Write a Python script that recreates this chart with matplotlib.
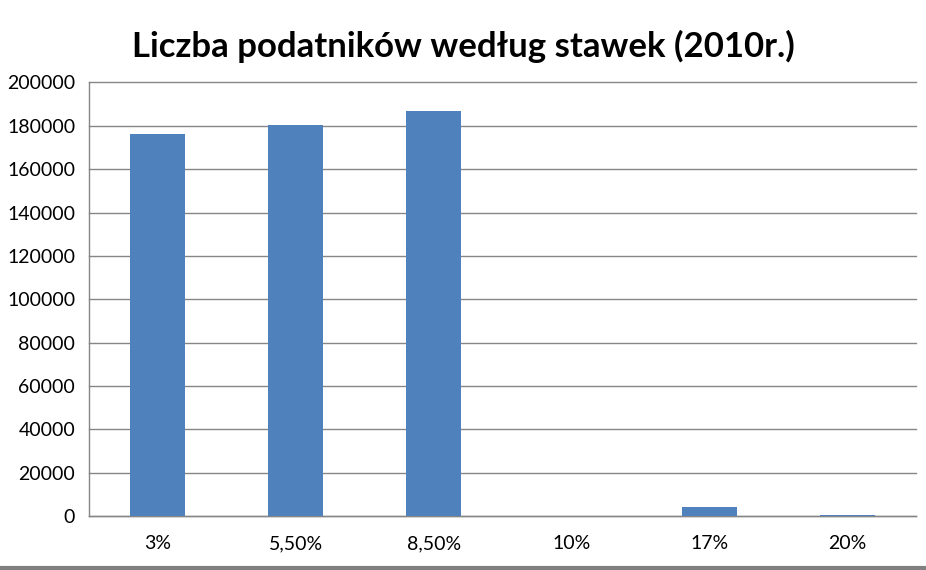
import matplotlib
matplotlib.use("Agg")
import matplotlib.pyplot as plt

categories = ["3%", "5,50%", "8,50%", "10%", "17%", "20%"]
taxpayers = [176300, 180600, 187000, 0, 4300, 500]
y_ticks = [0, 20000, 40000, 60000, 80000, 100000, 120000, 140000, 160000, 180000, 200000]

BAR = "#4F81BD"
GRID = "#868686"

plt.rcParams["font.family"] = ["Lato", "DejaVu Sans"]

fig = plt.figure(figsize=(9.26, 5.70), dpi=100)
ax = fig.add_axes([89 / 926, (570 - 516) / 570, (916 - 89) / 926, (516 - 82.5) / 570])

x = range(len(categories))
ax.bar(list(x), taxpayers, width=0.4, color=BAR, zorder=3)
ax.set_xlim(-0.5, len(categories) - 0.5)
ax.set_ylim(0, 200000)
ax.set_yticks(y_ticks)
ax.set_yticklabels([str(v) for v in y_ticks], fontsize=14)
ax.set_xticks(list(x))
ax.set_xticklabels(categories, fontsize=14)
ax.tick_params(length=0, pad=10)
ax.tick_params(axis="x", pad=14)
ax.yaxis.grid(True, color=GRID, linewidth=1)
for gl in ax.get_ygridlines():
    gl.set_clip_on(False)
ax.set_axisbelow(True)
for s in ["top", "right"]:
    ax.spines[s].set_visible(False)
for s in ["left", "bottom"]:
    ax.spines[s].set_color(GRID)
    ax.spines[s].set_linewidth(1)

fig.text(0.5, 0.918, "Liczba podatników według stawek (2010r.)", ha="center", va="center",
         fontsize=25, fontweight="bold")

# gray band at the bottom edge
fig.add_artist(plt.Line2D([0, 1], [0.003, 0.003], color="#808080", linewidth=3, transform=fig.transFigure))

fig.savefig("out.png", dpi=100)
